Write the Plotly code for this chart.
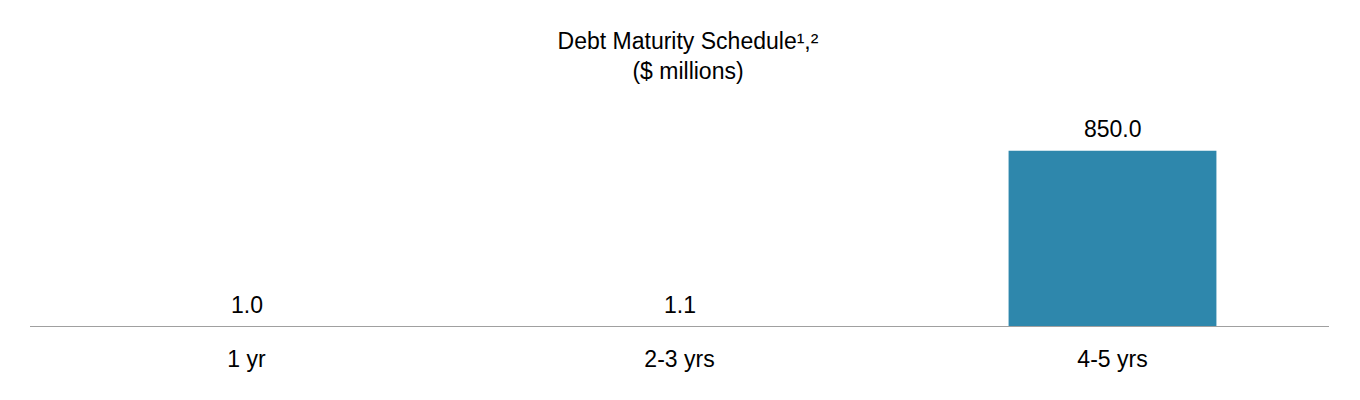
import plotly.graph_objects as go

categories = ["1 yr", "2-3 yrs", "4-5 yrs"]
values = [1.0, 1.1, 850.0]
value_labels = [f"{v:.1f}" for v in values]
title_lines = ["Debt Maturity Schedule¹,²", "($ millions)"]

FONT = "Liberation Sans, Arial, sans-serif"
FS = 23

fig = go.Figure(
    go.Bar(
        x=categories,
        y=values,
        marker=dict(color="#2E87AC", line=dict(width=0)),
        hoverinfo="skip",
    )
)

for cat, val, lab in zip(categories, values, value_labels):
    fig.add_annotation(
        x=cat, y=val, text=lab, showarrow=False,
        xanchor="center", yanchor="bottom", yshift=7,
        font=dict(family=FONT, size=FS, color="#000000"),
    )

# baseline drawn above the bars (covers sub-pixel bars like the reference)
fig.add_shape(
    type="line", xref="paper", x0=0, x1=1, yref="y", y0=0, y1=0,
    layer="above", line=dict(color="#A0A0A0", width=2),
)

fig.update_layout(
    width=1360,
    height=400,
    paper_bgcolor="white",
    plot_bgcolor="white",
    margin=dict(l=22, r=39, t=92, b=81),
    bargap=0.52,
    showlegend=False,
    font=dict(family=FONT, size=FS, color="#000000"),
    title=dict(
        text="<br>".join(title_lines),
        x=0.5,
        xanchor="center",
        y=0.898,
        yanchor="top",
        yref="container",
        font=dict(family=FONT, size=FS, color="#000000"),
    ),
    xaxis=dict(
        showline=False,
        showgrid=False,
        zeroline=False,
        ticks="outside",
        ticklen=11,
        tickcolor="rgba(0,0,0,0)",
        tickfont=dict(family=FONT, size=FS, color="#000000"),
    ),
    yaxis=dict(
        visible=False,
        range=[0, 1095],
        showgrid=False,
        zeroline=False,
    ),
)

fig.write_html("out.html", config={"staticPlot": True})
